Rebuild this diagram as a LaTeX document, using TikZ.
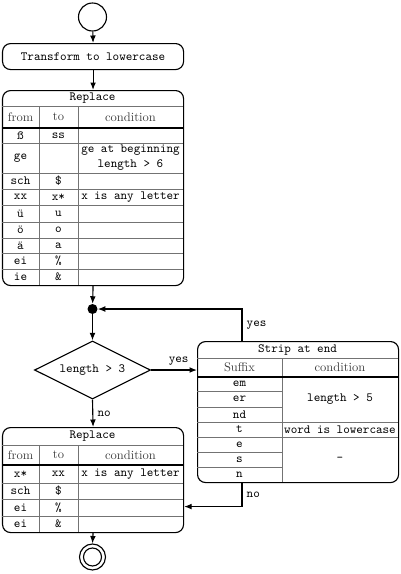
\documentclass[tikz,border=0pt]{standalone}
\usepackage{tikz}
\usetikzlibrary{shapes,arrows.meta}
\tikzstyle{box}=[draw, line width=.9pt, rounded corners=6.4pt, inner sep=0pt, anchor=north west]
\tikzstyle{ball}=[circle, draw, line width=.9pt, inner sep=0pt]
\tikzstyle{closed}=[circle, fill=black, inner sep=0pt, minimum size=8pt]
\tikzstyle{cell}=[font=\ttfamily, inner sep=1pt]
\tikzstyle{head}=[text=black!75, inner sep=1pt]
\tikzstyle{rule}=[black!55, line width=.5pt]
\tikzstyle{headrule}=[black, line width=1.2pt]
\tikzstyle{flow}=[-{Latex[length=6pt,width=4.6pt]}, line width=.9pt]
\tikzstyle{lbl}=[font=\ttfamily]

\begin{document}
\begin{tikzpicture}[x=.8pt, y=-.8pt]
	\useasboundingbox (0,0) rectangle (400,574);

	\node[ball, minimum size=22.4pt] (start) at (92.5,17) {};
	\node[box, minimum width=144.8pt, minimum height=20.8pt, font=\ttfamily] (lower) at (2,43) {Transform to lowercase};

	% first replace table
	\node[box, minimum width=144.8pt, minimum height=156pt] (repl) at (2,90) {};
	\begin{scope}[shift={(2,90)}]
		\node[cell] (replt) at (90.5,8) {Replace};
		\draw[rule] (0,16)--(181,16);
		\draw[rule] (37,16)--(37,195);
		\draw[rule] (76,16)--(76,195);
		\node[head] at (18.5,27) {from};
		\node[head] at (56.5,27) {to};
		\node[head] at (128.5,27) {condition};
		\draw[headrule] (0,38)--(181,38);
		\foreach \y in {53,83,99,115,132,148,163,179}{
			\draw[rule] (0,\y)--(181,\y);
		}
		\foreach \y/\a/\b in {45.5/ß/ss, 68/ge/, 91/sch/\$, 107/xx/x*, 123.5/ü/u, 140/ö/o, 155.5/ä/a, 171/ei/\%, 187/ie/\&}{
			\node[cell] at (18.5,\y) {\a};
			\node[cell] at (56.5,\y) {\b};
		}
		\node[cell, align=center] at (128.5,68) {ge at beginning\\length > 6};
		\node[cell] at (128.5,107) {x is any letter};
	\end{scope}

	\node[closed] (dot) at (92.5,309) {};
	\node[draw, diamond, aspect=2, line width=.9pt, minimum width=92.8pt, minimum height=46.4pt, inner sep=0pt, font=\ttfamily] (check) at (92.5,370) {length > 3};

	% strip table
	\node[box, minimum width=160.8pt, minimum height=112.8pt] (strip) at (197,341) {};
	\begin{scope}[shift={(197,341)}]
		\node[cell] (stript) at (100.5,8.5) {Strip at end};
		\draw[rule] (0,17)--(201,17);
		\draw[rule] (85,17)--(85,141);
		\node[head] at (42.5,26.5) {Suffix};
		\node[head] at (143,26.5) {condition};
		\draw[headrule] (0,36)--(201,36);
		\foreach \y in {50,66,111,126}{
			\draw[rule] (0,\y)--(85,\y);
		}
		\foreach \y in {81,96}{
			\draw[rule] (0,\y)--(201,\y);
		}
		\foreach \y/\s in {43/em, 58/er, 73.5/nd, 88.5/t, 103.5/e, 118.5/s, 133.5/n}{
			\node[cell] at (42.5,\y) {\s};
		}
		\node[cell] at (143,58.5) {length > 5};
		\node[cell] at (143,88.5) {word is lowercase};
		\node[cell] at (143,118.5) {-};
	\end{scope}

	% second replace table
	\node[box, minimum width=144.8pt, minimum height=84pt] (repl2) at (2,427) {};
	\begin{scope}[shift={(2,427)}]
		\node[cell] (repl2t) at (90.5,9) {Replace};
		\draw[rule] (0,18)--(181,18);
		\draw[rule] (37,18)--(37,105);
		\draw[rule] (76,18)--(76,105);
		\node[head] at (18.5,28) {from};
		\node[head] at (56.5,28) {to};
		\node[head] at (128.5,28) {condition};
		\draw[headrule] (0,38)--(181,38);
		\foreach \y in {56,72,89}{
			\draw[rule] (0,\y)--(181,\y);
		}
		\foreach \y/\a/\b in {47/x*/xx, 64/sch/\$, 80.5/ei/\%, 97/ei/\&}{
			\node[cell] at (18.5,\y) {\a};
			\node[cell] at (56.5,\y) {\b};
		}
		\node[cell] at (128.5,47) {x is any letter};
	\end{scope}

	\node[ball, minimum size=20.8pt] (stop) at (92.5,557) {};
	\node[ball, minimum size=14.4pt] (stopin) at (stop) {};

	% connectors
	\draw[flow] (start) -- (lower.north);
	\draw[flow] (lower.south) -- (repl.north);
	\draw[flow] (repl.south) -- (dot);
	\draw[flow] (dot) -- (check.north);
	\draw[flow] (check.east) -- (check.east -| strip.west) node[lbl, pos=.6, above] {yes};
	\draw[flow] ([xshift=36pt]strip.north west) |- (dot.east) node[lbl, pos=.25, right] {yes};
	\draw[flow] (check.south) -- (repl2.north) node[lbl, midway, right] {no};
	\draw[flow] ([xshift=36pt]strip.south west) |- ([yshift=-21.2pt]repl2.east) node[lbl, pos=.25, right] {no};
	\draw[flow] (repl2.south) -- (stop.north);

\end{tikzpicture}
\end{document}
